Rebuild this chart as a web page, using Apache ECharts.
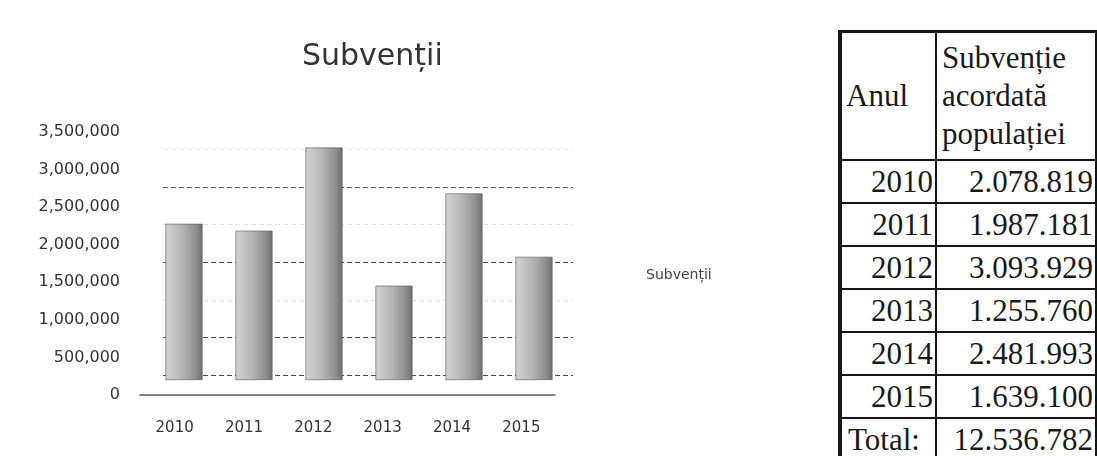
<!DOCTYPE html>
<html>
<head>
<meta charset="utf-8">
<script src="https://cdn.jsdelivr.net/npm/echarts@6/dist/echarts.min.js"></script>
<style>
html,body{margin:0;padding:0;background:#fff;width:1097px;height:456px;overflow:hidden;}
#chart{position:absolute;left:0;top:0;width:800px;height:456px;}
#tbl{position:absolute;left:838px;top:30px;border-collapse:collapse;table-layout:fixed;width:259px;
  font-family:"Liberation Serif","Times New Roman",serif;font-size:31px;color:#1a1a1a;}
#tbl td{border:2px solid #151515;padding:0;white-space:nowrap;overflow:visible;}
#tbl td.c1{width:89px;border-left:4px solid #151515;}
#tbl tr.top td{border-top:3px solid #151515;}
#tbl tr.hdr td{height:126px;line-height:38px;vertical-align:middle;}
#tbl tr.hdr td.c1{padding-left:4px;}
#tbl tr.hdr td.c2{padding-left:5px;}
#tbl tr.row td{height:41px;line-height:41px;}
#tbl td.num{text-align:right;padding-right:2px;}
#tbl td.lbl{text-align:left;padding-left:6px;}
</style>
</head>
<body>
<div id="chart"></div>
<table id="tbl"></table>
<script>
// ---- data ----
const chartTitle = 'Subvenții';
const seriesName = 'Subvenții';
const years = ['2010', '2011', '2012', '2013', '2014', '2015'];
const subsidies = [2078819, 1987181, 3093929, 1255760, 2481993, 1639100];
const yMin = 0;
const yMax = 3500000;
const yStep = 500000;
const tableHeadYear = 'Anul';
const tableHeadValue = ['Subvenție', 'acordată', 'populației'];
const totalLabel = 'Total:';
const totalValue = 12536782;

function groupDigits(v, sep) {
  return String(v).replace(/\B(?=(\d{3})+(?!\d))/g, sep);
}

// ---- table ----
let html = '<tr class="hdr top"><td class="c1">' + tableHeadYear + '</td><td class="c2">' +
  tableHeadValue.join('<br>') + '</td></tr>';
years.forEach(function (y, i) {
  html += '<tr class="row"><td class="c1 num">' + y + '</td><td class="c2 num">' +
    groupDigits(subsidies[i], '.') + '</td></tr>';
});
html += '<tr class="row"><td class="c1 lbl">' + totalLabel + '</td><td class="c2 num">' +
  groupDigits(totalValue, '.') + '</td></tr>';
document.getElementById('tbl').innerHTML = html;

// ---- chart ----
const chart = echarts.init(document.getElementById('chart'), null, {renderer: 'canvas'});
const font = 'DejaVu Sans';
const txt = '#333333';

chart.setOption({
  animation: false,
  backgroundColor: '#ffffff',
  title: {
    text: chartTitle,
    left: 297, top: 37,
    textStyle: {fontFamily: font, fontSize: 30, fontWeight: 'normal', color: '#333333'}
  },
  legend: {
    data: [seriesName],
    left: 635, top: 263,
    itemWidth: 0, itemHeight: 0,
    textStyle: {fontFamily: font, fontSize: 14, color: '#444'}
  },
  grid: [
    {left: 140, top: 132, width: 416, height: 263},  // front: labels & floor line
    {left: 149, top: 117, width: 420, height: 263},  // bars (3D depth middle)
    {left: 163, top: 112, width: 410, height: 263}   // back wall gridlines
  ],
  xAxis: [
    {
      gridIndex: 0, type: 'category', data: years,
      axisLine: {show: true, lineStyle: {color: '#555', width: 1.5, type: [3, 1]}},
      axisTick: {show: false},
      axisLabel: {fontFamily: font, fontSize: 15, color: txt, margin: 26}
    },
    {gridIndex: 1, type: 'category', data: years, show: false},
    {gridIndex: 2, type: 'category', data: years, show: false}
  ],
  yAxis: [
    {
      gridIndex: 0, type: 'value', min: yMin, max: yMax, interval: yStep,
      axisLine: {show: false}, axisTick: {show: false}, splitLine: {show: false},
      axisLabel: {
        fontFamily: font, fontSize: 16, color: txt, margin: 20,
        formatter: function (v) { return groupDigits(v, ','); }
      }
    },
    {gridIndex: 1, type: 'value', min: yMin, max: yMax, interval: yStep, show: false},
    {
      gridIndex: 2, type: 'value', min: yMin, max: yMax, interval: yStep,
      axisLine: {show: false}, axisTick: {show: false}, axisLabel: {show: false},
      splitLine: {
        show: true, showMinLine: true, showMaxLine: false,
        lineStyle: {
          type: [5, 3], width: 1.2,
          color: ['#4a4a4a', '#4a4a4a', '#e2e2e2', '#4a4a4a', '#e2e2e2', '#5a5a5a', '#e8e8e8']
        }
      }
    }
  ],
  series: [{
    name: seriesName,
    type: 'bar',
    xAxisIndex: 1, yAxisIndex: 1,
    data: subsidies,
    barWidth: 37,
    itemStyle: {
      color: new echarts.graphic.LinearGradient(0, 0, 1, 0, [
        {offset: 0, color: '#d2d2d2'},
        {offset: 0.45, color: '#b6b6b6'},
        {offset: 0.8, color: '#909090'},
        {offset: 1, color: '#707070'}
      ]),
      borderColor: '#555', borderWidth: 0.6
    }
  }]
});
</script>
</body>
</html>
